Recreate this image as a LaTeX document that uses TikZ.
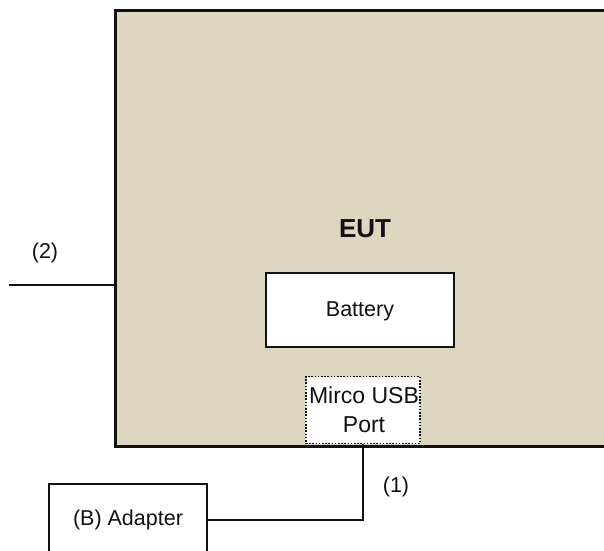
\documentclass[tikz,border=0pt]{standalone}
\usepackage{fontspec}
\setmainfont{Liberation Sans}
\definecolor{eutfill}{RGB}{221,215,193}
\definecolor{ink}{RGB}{17,17,17}
\begin{document}
\begin{tikzpicture}[x=1pt,y=-1pt,
  box/.style={draw=ink, line width=2.6pt, fill=white, inner sep=0pt},
  wire/.style={draw=ink, line width=2.2pt},
  lbl/.style={text=ink, font=\fontsize{21.5}{26}\selectfont, inner sep=0pt}]
\useasboundingbox (0,0) rectangle (604,550);
\clip (0,0) rectangle (604,550);
\node[draw=ink, line width=2.6pt, fill=eutfill, anchor=north west, minimum width=506pt, minimum height=436pt, inner sep=0pt] (eut) at (114,9) {};
\node[lbl, font=\bfseries\fontsize{26}{30}\selectfont] (eutl) at (365,229) {EUT};
\node[box, minimum width=188pt, minimum height=74pt] (bat) at (360,310) {};
\node[lbl] (batl) at (360,311) {Battery};
\node[draw=ink, line width=1.6pt, dash pattern=on 1.6pt off 1.6pt, fill=white, minimum width=114pt, minimum height=67pt, inner sep=0pt] (usb) at (363,410) {};
\node[lbl, align=center, font=\fontsize{23}{29}\selectfont] (usbl) at (364,410) {Mirco USB\\Port};
\node[box, minimum width=158pt, minimum height=72pt] (adp) at (128,520) {};
\node[lbl] (adpl) at (128,520) {(B) Adapter};
\coordinate (c2) at (9,285);
\draw[wire] (c2) -- (c2 -| eut.west);
\node[lbl] (l2) at (45,253) {(2)};
\draw[wire] (usb.south) |- (adp.east);
\node[lbl] (l1) at (396,487) {(1)};
\end{tikzpicture}
\end{document}
